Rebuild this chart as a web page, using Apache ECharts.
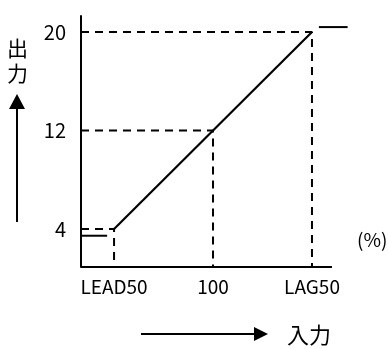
<!DOCTYPE html>
<html><head><meta charset="utf-8">
<script src="https://cdn.jsdelivr.net/npm/echarts@6/dist/echarts.min.js"></script>
<style>html,body{margin:0;padding:0;background:#fff}#c{width:388px;height:349px}</style>
</head><body><div id="c"></div>
<script>
var xTicks = [50, 100, 150];
var xTickLabels = ['LEAD50', '100', 'LAG50'];
var yTicks = [4, 12, 20];
var mainLine = [[50, 4], [150, 20]];
var lowFlat = [[33.3, 3.45], [46.5, 3.45]];
var highFlat = [[153.5, 20.4], [168, 20.4]];
var guidePoints = [[50, 4], [100, 12], [150, 20]];
var xMin = 33.3, xAxisEnd = 160.1, xMax = 168, yMin = 0.91, yMax = 21.3;

var font = '"Noto Sans CJK JP", "Noto Sans", sans-serif';
var series = [];
series.push({ type: 'line', symbol: 'none', silent: true, data: [[xMin, yMin], [xAxisEnd, yMin]],
  lineStyle: { color: '#000', width: 2 } });
guidePoints.forEach(function (p) {
  series.push({
    type: 'line', symbol: 'none', silent: true,
    data: [[xMin, p[1]], [p[0], p[1]], [p[0], yMin]],
    lineStyle: { color: '#000', width: 2, type: [8, 6] }
  });
});
series.push({ type: 'line', symbol: 'none', data: mainLine, lineStyle: { color: '#000', width: 2.2 } });
series.push({ type: 'line', symbol: 'none', data: lowFlat, lineStyle: { color: '#000', width: 2 } });
series.push({ type: 'line', symbol: 'none', data: highFlat, lineStyle: { color: '#000', width: 2 } });

var chart = echarts.init(document.getElementById('c'), null, { renderer: 'canvas' });
chart.setOption({
  animation: false,
  backgroundColor: '#fff',
  grid: { left: 81, right: 40.4, top: 16, bottom: 82 },
  xAxis: {
    type: 'value', min: xMin, max: xMax,
    splitLine: { show: false },
    axisLine: { show: false },
    axisTick: { show: false },
    axisLabel: {
      customValues: xTicks, margin: 10,
      color: '#000', fontSize: 19, fontFamily: font,
      formatter: function (v) { var i = xTicks.indexOf(v); return i >= 0 ? xTickLabels[i] : ''; }
    }
  },
  yAxis: {
    type: 'value', min: yMin, max: yMax,
    splitLine: { show: false },
    axisLine: { show: true, lineStyle: { color: '#000', width: 2 } },
    axisTick: { show: false },
    axisLabel: {
      customValues: yTicks, margin: 15, padding: [6, 0, 0, 0],
      color: '#000', fontSize: 20, fontFamily: font
    }
  },
  graphic: [
    { type: 'text', left: 357, top: 227, style: { text: '(%)', fill: '#000', font: '19px ' + font, lineHeight: 26 } },
    { type: 'text', left: 287, top: 322, style: { text: '入力', fill: '#000', font: '22px ' + font, lineHeight: 26 } },
    { type: 'text', left: 7, top: 36, style: { text: '出\n力', fill: '#000', font: '21px ' + font, lineHeight: 25 } },
    { type: 'line', shape: { x1: 141, y1: 334, x2: 256, y2: 334 }, style: { stroke: '#000', lineWidth: 2 } },
    { type: 'polygon', shape: { points: [[254, 327], [268, 334], [254, 341]] }, style: { fill: '#000' } },
    { type: 'line', shape: { x1: 17, y1: 107, x2: 17, y2: 222 }, style: { stroke: '#000', lineWidth: 2 } },
    { type: 'polygon', shape: { points: [[9, 109], [17, 94], [25, 109]] }, style: { fill: '#000' } }
  ],
  series: series
});
</script></body></html>
